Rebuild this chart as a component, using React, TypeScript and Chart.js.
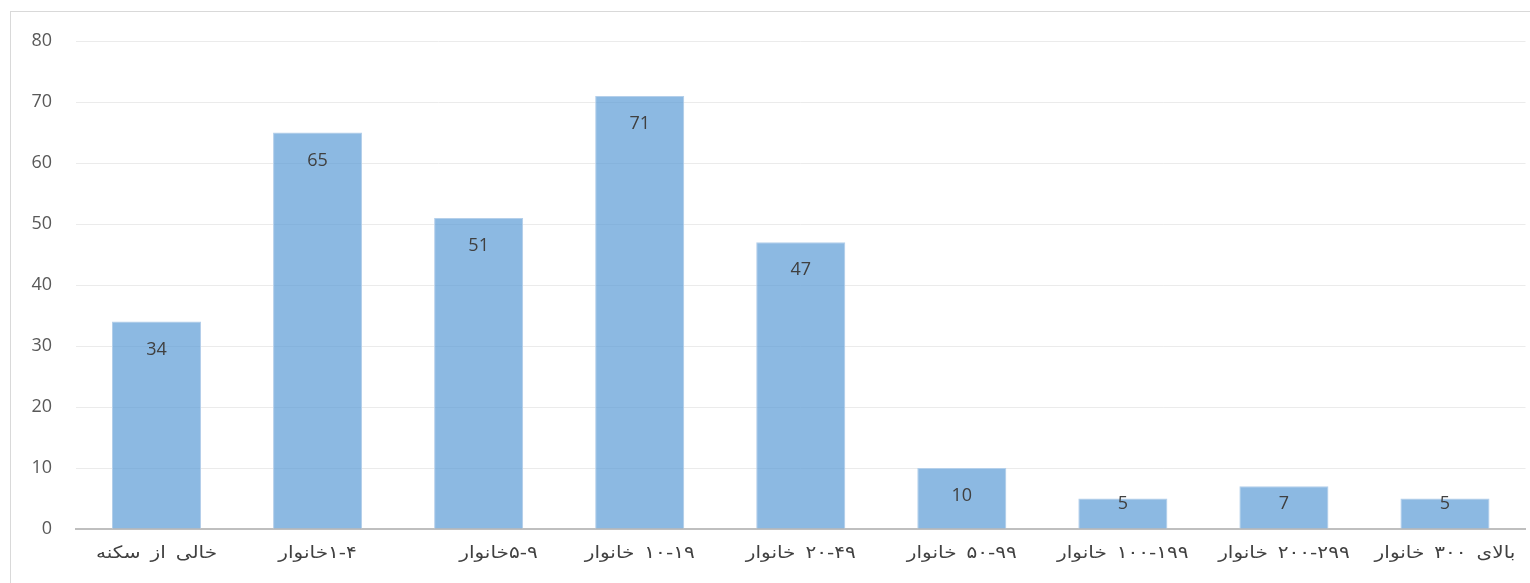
import React, { useEffect, useRef } from "react";
import { Chart, registerables } from "chart.js";

Chart.register(...registerables);

const categories: string[] = [
  "خالی از سکنه",
  "۱-۴خانوار",
  "۵-۹خانوار    ",
  "۱۰-۱۹ خانوار",
  "۲۰-۴۹ خانوار",
  "۵۰-۹۹ خانوار",
  "۱۰۰-۱۹۹ خانوار",
  "۲۰۰-۲۹۹ خانوار",
  "بالای ۳۰۰ خانوار",
];
const values: number[] = [34, 65, 51, 71, 47, 10, 5, 7, 5];
const yTicks: number[] = [0, 10, 20, 30, 40, 50, 60, 70, 80];

const valueLabels = {
  id: "valueLabels",
  afterDatasetsDraw(chart: any) {
    const ctx = chart.ctx;
    const meta = chart.getDatasetMeta(0);
    ctx.save();
    ctx.direction = "ltr";
    ctx.font = "18px 'Open Sans', 'Liberation Sans', sans-serif";
    ctx.fillStyle = "#404040";
    ctx.textAlign = "center";
    ctx.textBaseline = "middle";
    meta.data.forEach((bar: any, i: number) => {
      const y = Math.min(bar.y + 28, bar.base - 25);
      ctx.fillText(String(values[i]), bar.x, y);
    });
    ctx.restore();
  },
};

const spacedXLabels = {
  id: "spacedXLabels",
  afterLayout(chart: any) {
    const sc = chart.scales.x;
    if (sc && !sc.__wrapped) {
      const orig = sc.drawLabels.bind(sc);
      sc.drawLabels = (area: any) => {
        const ctx = chart.ctx;
        ctx.save();
        ctx.direction = "rtl";
        (ctx as any).letterSpacing = "3px";
        const of = ctx.fillText;
        ctx.fillText = function (t: string, x: number, y: number, mw?: number) {
          this.save();
          this.translate(x, y);
          this.scale(1.18, 1);
          if (mw === undefined) of.call(this, t, 0, 0);
          else of.call(this, t, 0, 0, mw / 1.18);
          this.restore();
        };
        try {
          orig(area);
        } finally {
          delete (ctx as any).fillText;
          ctx.restore();
        }
      };
      sc.__wrapped = true;
    }
  },
};

export default function App() {
  const ref = useRef<HTMLCanvasElement>(null);
  useEffect(() => {
    document.body.style.margin = "0";
    document.documentElement.style.overflow = "hidden";
    const chart = new Chart(ref.current!, {
      type: "bar",
      data: {
        labels: categories,
        datasets: [
          {
            data: values,
            backgroundColor: "rgba(91,155,213,0.7)",
            borderColor: "rgba(180,207,234,1)",
            borderWidth: 1,
            categoryPercentage: 0.553,
            barPercentage: 1,
          },
        ],
      },
      options: {
        animation: false,
        responsive: false,
        maintainAspectRatio: false,
        layout: { padding: { left: 0, top: 41, right: 4.5, bottom: 0 } },
        plugins: {
          legend: { display: false },
          tooltip: { enabled: false },
          title: { display: false },
        },
        scales: {
          x: {
            grid: { display: false, drawTicks: false },
            border: { display: true, color: "#bfbfbf", width: 2 },
            ticks: {
              color: "#404040",
              font: { family: "'DejaVu Sans', sans-serif", size: 17 },
              padding: 14,
              maxRotation: 0,
              autoSkip: false,
            },
            afterFit: (s: any) => {
              s.height = 54;
            },
          },
          y: {
            min: 0,
            max: 80,
            afterBuildTicks: (s: any) => {
              s.ticks = yTicks.map((v) => ({ value: v }));
            },
            grid: {
              drawTicks: false,
              color: (c: any) => (c.tick && c.tick.value === 0 ? "rgba(0,0,0,0)" : "#ebebeb"),
              lineWidth: 1,
            },
            border: { display: false },
            ticks: {
              color: "#595959",
              font: { family: "'Open Sans', sans-serif", size: 18 },
              padding: 24,
            },
            afterFit: (s: any) => {
              s.width = 76;
            },
          },
        },
      },
      plugins: [valueLabels, spacedXLabels],
    });
    return () => chart.destroy();
  }, []);

  return (
    <div style={{ position: "relative", width: 1530, height: 583, overflow: "hidden", background: "#fff" }}>
      <div
        style={{
          position: "absolute",
          left: 10,
          top: 11,
          width: 1560,
          height: 600,
          borderLeft: "1px solid #d9d9d9",
          borderTop: "1px solid #d9d9d9",
        }}
      />
      <canvas ref={ref} width={1530} height={583} style={{ position: "absolute", left: 0, top: 0 }} />
    </div>
  );
}
